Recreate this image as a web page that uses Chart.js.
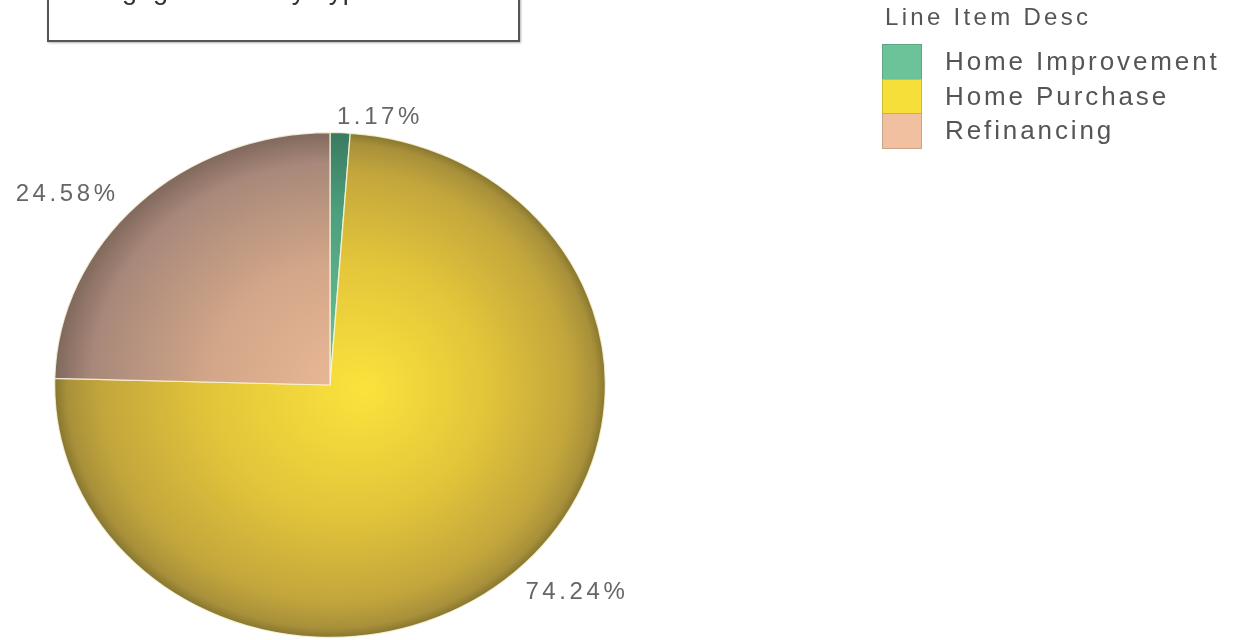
<!DOCTYPE html>
<html>
<head>
<meta charset="utf-8">
<script src="https://cdn.jsdelivr.net/npm/chart.js@4"></script>
<style>
  body { margin: 0; background: #fff; overflow: hidden; font-family: "Liberation Sans", Arial, sans-serif; }
  #wrap { position: relative; width: 1234px; height: 640px; }
  #titleBox {
    position: absolute; left: 47px; top: -40px; width: 469px; height: 78px;
    border: 2px solid #555; box-shadow: 1px 1px 2px rgba(0,0,0,0.3);
  }
  #titleBox span {
    position: absolute; left: 17px; top: 13px; font-size: 27px; line-height: 30px; color: #333; letter-spacing: 0.5px; white-space: nowrap;
  }
  #legend { position: absolute; left: 882px; top: 0; color: #555; }
  #legend .ttl { position: absolute; left: 3px; top: 3px; font-size: 24px; letter-spacing: 3.3px; white-space: nowrap; }
  #legend .row { position: absolute; left: 0; height: 35px; white-space: nowrap; }
  #legend .sw { position: absolute; left: 0; top: 0; width: 38px; height: 34px; border: 1px solid rgba(0,0,0,0.15); }
  #legend .lbl { position: absolute; left: 63px; top: 2px; font-size: 26px; letter-spacing: 2.9px; }
</style>
</head>
<body>
<div id="wrap">
  <canvas id="pie" width="1234" height="640"></canvas>
  <div id="titleBox"><span>Mortgage Loans by Type</span></div>
  <div id="legend"></div>
</div>
<script>
var chartTitle = 'Mortgage Loans by Type';
var legendTitle = 'Line Item Desc';
var categorias = ['Home Improvement', 'Home Purchase', 'Refinancing'];
var valores = [1.17, 74.24, 24.58];
var coresLegenda = ['#6cc39a', '#f7df3a', '#f0c0a0'];

// gradient stops for each slice (centre -> rim)
var gradientes = [
  [[0, '#6fc8a0'], [0.7, '#4c9e7c'], [1, '#3a7a60']],
  [[0, '#fbe33c'], [0.5, '#e3c53a'], [0.85, '#c2a63c'], [0.96, '#a8903a'], [1, '#85752e']],
  [[0, '#edbb98'], [0.5, '#d2a688'], [0.88, '#a8887a'], [1, '#80685c']]
];

var escalaX = 276 / 253;

document.getElementById('titleBox').querySelector('span').textContent = chartTitle;

// legenda em html
var leg = document.getElementById('legend');
var t = document.createElement('div');
t.className = 'ttl';
t.textContent = legendTitle;
leg.appendChild(t);
for (let i = 0; i < categorias.length; i++) {
  var row = document.createElement('div');
  row.className = 'row';
  row.style.top = (44 + i * 34.5) + 'px';
  row.innerHTML = '<div class="sw" style="background:' + coresLegenda[i] + '"></div><div class="lbl"></div>';
  row.querySelector('.lbl').textContent = categorias[i];
  leg.appendChild(row);
}

function fundo(context) {
  var chart = context.chart;
  var area = chart.chartArea;
  if (!area) return coresLegenda[context.dataIndex];
  var cx = (area.left + area.right) / 2;
  var cy = (area.top + area.bottom) / 2;
  var r = Math.min(area.right - area.left, area.bottom - area.top) / 2;
  var g = chart.ctx.createRadialGradient(cx + 35 / escalaX, cy + 5, 0, cx, cy, r);
  gradientes[context.dataIndex].forEach(function(s) { g.addColorStop(s[0], s[1]); });
  return g;
}

var elipse = {
  id: 'elipse',
  beforeDatasetsDraw: function(chart) {
    var a = chart.chartArea;
    var cx = (a.left + a.right) / 2;
    var ctx = chart.ctx;
    ctx.save();
    ctx.translate(cx, 0);
    ctx.scale(escalaX, 1);
    ctx.translate(-cx, 0);
  },
  afterDatasetsDraw: function(chart) {
    var ctx = chart.ctx;
    ctx.restore();
    var meta = chart.getDatasetMeta(0);
    ctx.save();
    ctx.font = '24px "Liberation Sans", Arial, sans-serif';
    ctx.letterSpacing = '3.6px';
    ctx.fillStyle = '#666';
    ctx.textBaseline = 'middle';
    meta.data.forEach(function(arc, i) {
      var p = arc.getProps(['x', 'y', 'startAngle', 'endAngle', 'outerRadius'], true);
      var m = (p.startAngle + p.endAngle) / 2;
      var r = p.outerRadius + 20;
      var x = p.x + Math.cos(m) * r * escalaX;
      var y = p.y + Math.sin(m) * r;
      ctx.textAlign = x >= p.x ? 'left' : 'right';
      ctx.fillText(valores[i].toFixed(2) + '%', x - 4, y + 5);
    });
    ctx.restore();
  }
};

new Chart(document.getElementById('pie'), {
  type: 'pie',
  data: {
    labels: categorias,
    datasets: [{
      data: valores,
      backgroundColor: fundo,
      borderColor: 'rgba(250,245,220,0.85)',
      borderWidth: 1.2
    }]
  },
  options: {
    responsive: false,
    animation: false,
    layout: { padding: { left: 77, right: 651, top: 132, bottom: 2 } },
    plugins: {
      legend: { display: false },
      tooltip: { enabled: false }
    }
  },
  plugins: [elipse]
});
</script>
</body>
</html>
